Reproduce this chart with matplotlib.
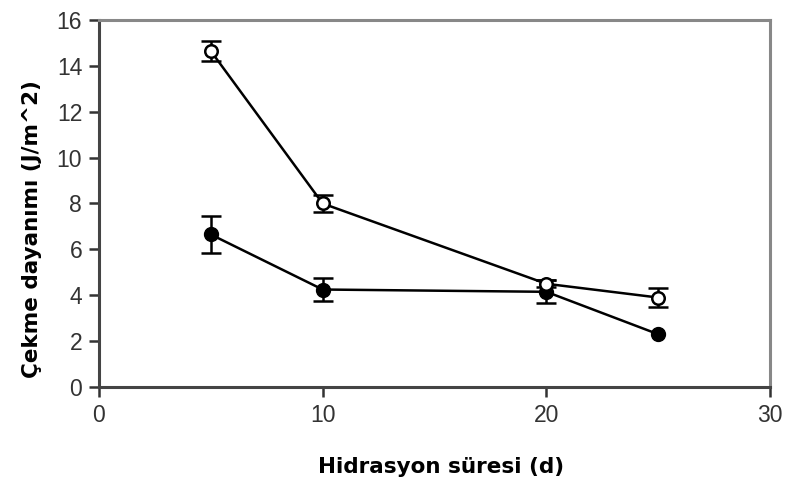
import matplotlib.pyplot as plt

# ====================================
# Data
# ====================================
days = [5, 10, 20, 25]

open_vals = [14.65, 8.0, 4.5, 3.9]
open_err = [0.45, 0.35, 0.15, 0.42]

filled_vals = [6.65, 4.25, 4.15, 2.3]
filled_err = [0.8, 0.5, 0.5, 0.0]

x_ticks = [0, 10, 20, 30]
y_ticks = [0, 2, 4, 6, 8, 10, 12, 14, 16]

# ====================================
# Plot
# ====================================
plt.rcParams['font.family'] = ['Liberation Sans', 'DejaVu Sans']

fig = plt.figure(figsize=(7.85, 4.84), dpi=100)
ax = fig.add_axes([0.126, 0.2004, 0.855, 0.7583])

ax.errorbar(days, open_vals, yerr=open_err, fmt='-o', color='black',
            markerfacecolor='white', markeredgecolor='black', markersize=9,
            markeredgewidth=1.8, linewidth=1.8, elinewidth=1.8,
            capsize=7, capthick=1.8)
ax.errorbar(days[:3], filled_vals[:3], yerr=filled_err[:3], fmt='none',
            ecolor='black', elinewidth=1.8, capsize=7, capthick=1.8)
ax.plot(days, filled_vals, '-o', color='black', markerfacecolor='black',
        markersize=10, linewidth=1.8)

ax.set_xlim(0, 30)
ax.set_ylim(0, 16)
ax.set_xticks(x_ticks)
ax.set_yticks(y_ticks)
ax.tick_params(direction='out', length=7, width=1.8, labelsize=16.5,
               colors='#333333', labelcolor='#333333', pad=5)

for side in ['left', 'bottom', 'right', 'top']:
    ax.spines[side].set_linewidth(2.2)
    ax.spines[side].set_color('#444444')
ax.spines['top'].set_color('#888888')
ax.spines['right'].set_color('#888888')

ax.set_xlabel("Hidrasyon süresi (d)", fontsize=15.5, fontweight='bold',
              family=['DejaVu Sans'])
ax.set_ylabel("Çekme dayanımı (J/m^2)", fontsize=15.5, fontweight='bold',
              family=['DejaVu Sans'])
ax.xaxis.set_label_coords(0.51, -0.19)
ax.yaxis.set_label_coords(-0.085, 0.43)

fig.savefig("out.png", dpi=100)
